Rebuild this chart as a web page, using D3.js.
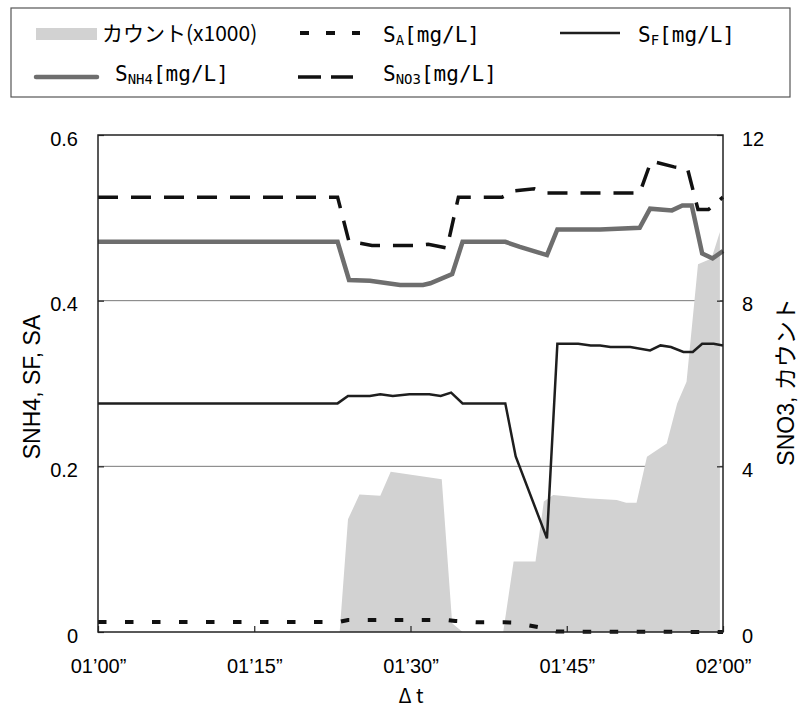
<!DOCTYPE html>
<html>
<head>
<meta charset="utf-8">
<script src="https://cdn.jsdelivr.net/npm/d3@7"></script>
<style>
  body { margin: 0; background: #fff; }
  svg { display: block; }
</style>
</head>
<body>
<div class="graph"></div>
<script>
// time in seconds
const countT = [60, 83.2, 84.0, 85.1, 87.1, 88.1, 93.0, 94.0, 95.0, 98.9, 99.9, 102.0, 102.8, 103.7, 106.9, 109.8, 110.7, 111.7, 112.7, 114.6, 115.6, 116.5, 117.6, 118.9, 119.7, 119.7];
const countV = [0, 0, 2.72, 3.32, 3.29, 3.87, 3.69, 0.21, 0, 0, 1.70, 1.70, 3.15, 3.31, 3.23, 3.19, 3.12, 3.12, 4.23, 4.55, 5.52, 6.04, 8.88, 9.02, 9.66, 0];

const no3T = [60, 83.0, 84.1, 85.3, 86.3, 90.6, 91.7, 93.5, 94.6, 98.8, 100.0, 101.9, 103.0, 112.0, 113.1, 115.3, 116.6, 117.6, 118.6, 120];
const no3V = [10.5, 10.5, 9.42, 9.38, 9.33, 9.33, 9.36, 9.27, 10.5, 10.5, 10.65, 10.7, 10.6, 10.6, 11.37, 11.23, 11.18, 10.2, 10.2, 10.5];

const nh4T = [60, 83.0, 84.1, 86.1, 89.0, 91.2, 91.9, 94.0, 95.0, 99.1, 100.5, 103.1, 104.1, 108.2, 112.0, 113.0, 115.1, 116.1, 117.0, 118.0, 119.0, 120];
const nh4V = [0.471, 0.471, 0.425, 0.424, 0.419, 0.419, 0.421, 0.432, 0.471, 0.471, 0.465, 0.455, 0.486, 0.486, 0.488, 0.511, 0.509, 0.515, 0.515, 0.457, 0.451, 0.460];

const sfT = [60, 83.0, 84.0, 86.1, 87.1, 88.3, 89.9, 91.8, 92.9, 93.9, 95.0, 99.1, 100.1, 103.1, 104.1, 106.1, 107.3, 108.2, 109.2, 111.1, 113.0, 114.0, 115.0, 116.2, 117.1, 118.0, 119.1, 120];
const sfV = [0.276, 0.276, 0.285, 0.285, 0.287, 0.285, 0.287, 0.287, 0.285, 0.289, 0.276, 0.276, 0.212, 0.113, 0.348, 0.348, 0.346, 0.346, 0.344, 0.344, 0.340, 0.346, 0.344, 0.338, 0.338, 0.348, 0.348, 0.346];

const saT = [60, 83.1, 84.0, 89.0, 93.5, 94.3, 96.5, 99.0, 100.0, 102.6, 104.0, 120];
const saV = [0.012, 0.012, 0.0145, 0.0145, 0.0145, 0.0133, 0.0117, 0.0117, 0.0113, 0.005, 0.0005, 0];

const xTicks = [60, 75, 90, 105, 120];
const xTickLabels = ["01’00”", "01’15”", "01’30”", "01’45”", "02’00”"];
const leftTicks = [0, 0.2, 0.4, 0.6];
const leftLabels = ["0", "0.2", "0.4", "0.6"];
const rightTicks = [0, 4, 8, 12];
const gridTicks = [0.2, 0.4];

const width = 799;
const height = 709;
const plot = { left: 98, right: 723, top: 135, bottom: 632 };
const tickFont = "'Liberation Sans', Arial, sans-serif";
const monoFont = "'DejaVu Sans Mono', 'Noto Sans CJK JP', monospace";
const cjkFont = "'Noto Sans CJK JP', sans-serif";

var svg = d3.select(".graph")
    .append("svg")
    .attr("width", width)
    .attr("height", height);

var x = d3.scaleLinear().domain([60, 120]).range([plot.left, plot.right]);
var yL = d3.scaleLinear().domain([0, 0.6]).range([plot.bottom, plot.top]);
var yR = d3.scaleLinear().domain([0, 12]).range([plot.bottom, plot.top]);

var zip = (ts, vs) => ts.map((t, i) => [t, vs[i]]);

// gridlines
svg.append("g")
    .selectAll("line")
    .data(gridTicks)
    .enter()
    .append("line")
    .attr("x1", plot.left)
    .attr("x2", plot.right)
    .attr("y1", d => yL(d))
    .attr("y2", d => yL(d))
    .attr("stroke", "#7a7a7a")
    .attr("stroke-width", 1);

// count area (right axis)
var area = d3.area()
    .x(d => x(d[0]))
    .y0(yR(0))
    .y1(d => yR(d[1]));
svg.append("path")
    .datum(zip(countT, countV))
    .attr("d", area)
    .attr("fill", "#d2d2d2");

// lines
var lineL = d3.line().x(d => x(d[0])).y(d => yL(d[1]));
var lineR = d3.line().x(d => x(d[0])).y(d => yR(d[1]));

svg.append("path")
    .datum(zip(nh4T, nh4V))
    .attr("d", lineL)
    .attr("fill", "none")
    .attr("stroke", "#6e6e6e")
    .attr("stroke-width", 4.5);

svg.append("path")
    .datum(zip(no3T, no3V))
    .attr("d", lineR)
    .attr("fill", "none")
    .attr("stroke", "#111")
    .attr("stroke-width", 3.5)
    .attr("stroke-dasharray", "20,13");

svg.append("path")
    .datum(zip(sfT, sfV))
    .attr("d", lineL)
    .attr("fill", "none")
    .attr("stroke", "#1e1e1e")
    .attr("stroke-width", 2.5);

svg.append("path")
    .datum(zip(saT, saV))
    .attr("d", lineL)
    .attr("fill", "none")
    .attr("stroke", "#111")
    .attr("stroke-width", 4)
    .attr("stroke-dasharray", "8.5,18.5");

// frame
svg.append("rect")
    .attr("x", plot.left)
    .attr("y", plot.top)
    .attr("width", plot.right - plot.left)
    .attr("height", plot.bottom - plot.top)
    .attr("fill", "none")
    .attr("stroke", "#222")
    .attr("stroke-width", 1.5);

// axes
var xAxis = d3.axisBottom(x)
    .tickValues(xTicks)
    .tickFormat((d, i) => xTickLabels[i])
    .tickSizeInner(-6)
    .tickSizeOuter(0)
    .tickPadding(27);
var gx = svg.append("g")
    .attr("transform", "translate(0," + plot.bottom + ")")
    .call(xAxis);

var yAxisL = d3.axisLeft(yL)
    .tickValues(leftTicks)
    .tickFormat((d, i) => leftLabels[i])
    .tickSizeInner(-6)
    .tickSizeOuter(0)
    .tickPadding(20);
var gl = svg.append("g")
    .attr("transform", "translate(" + plot.left + ",0)")
    .call(yAxisL);

var yAxisR = d3.axisRight(yR)
    .tickValues(rightTicks)
    .tickSizeInner(-6)
    .tickSizeOuter(0)
    .tickPadding(19);
var gr = svg.append("g")
    .attr("transform", "translate(" + plot.right + ",0)")
    .call(yAxisR);

[gx, gl, gr].forEach(g => {
    g.select(".domain").remove();
    g.selectAll("line").attr("stroke", "#222").attr("stroke-width", 1.2);
    g.selectAll("text")
        .attr("fill", "#000")
        .style("font-family", tickFont)
        .style("font-size", "20px");
});
gl.selectAll("text").attr("dy", "0.5em");
gr.selectAll("text").attr("dy", "0.5em");

// axis titles
svg.append("text")
    .attr("transform", "translate(40,387) rotate(-90)")
    .attr("text-anchor", "middle")
    .style("font-family", tickFont)
    .style("font-size", "23px")
    .text("SNH4, SF, SA");

svg.append("text")
    .attr("transform", "translate(794,382) rotate(-90)")
    .attr("text-anchor", "middle")
    .style("font-family", "'Liberation Sans', Arial, 'Noto Sans CJK JP', sans-serif")
    .style("font-size", "23px")
    .text("SNO3, カウント");

svg.append("text")
    .attr("x", 411)
    .attr("y", 703)
    .attr("text-anchor", "middle")
    .style("font-family", cjkFont)
    .style("font-size", "20px")
    .text("Δ t");

// legend
var legend = svg.append("g");
legend.append("rect")
    .attr("x", 11)
    .attr("y", 8)
    .attr("width", 779)
    .attr("height", 89)
    .attr("fill", "#fff")
    .attr("stroke", "#555")
    .attr("stroke-width", 1.2);

legend.append("rect")
    .attr("x", 36).attr("y", 28)
    .attr("width", 61).attr("height", 12)
    .attr("fill", "#d2d2d2");
legend.append("text")
    .attr("x", 102).attr("y", 41)
    .style("font-family", cjkFont)
    .style("font-size", "21px")
    .text("カウント(x1000)");

var legendLines = [
    { x1: 300, x2: 360, y: 33, stroke: "#111", w: 4, dash: "9,17", cap: "butt" },
    { x1: 560, x2: 620, y: 33, stroke: "#1e1e1e", w: 2.5, dash: null, cap: "butt" },
    { x1: 36, x2: 97, y: 77, stroke: "#6e6e6e", w: 4.5, dash: null, cap: "round" },
    { x1: 298, x2: 353, y: 77, stroke: "#111", w: 3.5, dash: "23,10", cap: "butt" }
];
legend.selectAll("line")
    .data(legendLines)
    .enter()
    .append("line")
    .attr("x1", d => d.x1)
    .attr("x2", d => d.x2)
    .attr("y1", d => d.y)
    .attr("y2", d => d.y)
    .attr("stroke", d => d.stroke)
    .attr("stroke-width", d => d.w)
    .attr("stroke-linecap", d => d.cap)
    .attr("stroke-dasharray", d => d.dash);

var legendTexts = [
    { x: 383, y: 42, sub: "A" },
    { x: 638, y: 42, sub: "F" },
    { x: 115, y: 81, sub: "NH4" },
    { x: 383, y: 81, sub: "NO3" }
];
legendTexts.forEach(d => {
    var t = legend.append("text")
        .attr("x", d.x)
        .attr("y", d.y)
        .style("font-family", monoFont)
        .style("font-size", "21px");
    t.append("tspan").text("S");
    t.append("tspan")
        .attr("dy", 3)
        .style("font-size", "14px")
        .text(d.sub);
    t.append("tspan")
        .attr("dy", -3)
        .text("[mg/L]");
});
</script>
</body>
</html>
